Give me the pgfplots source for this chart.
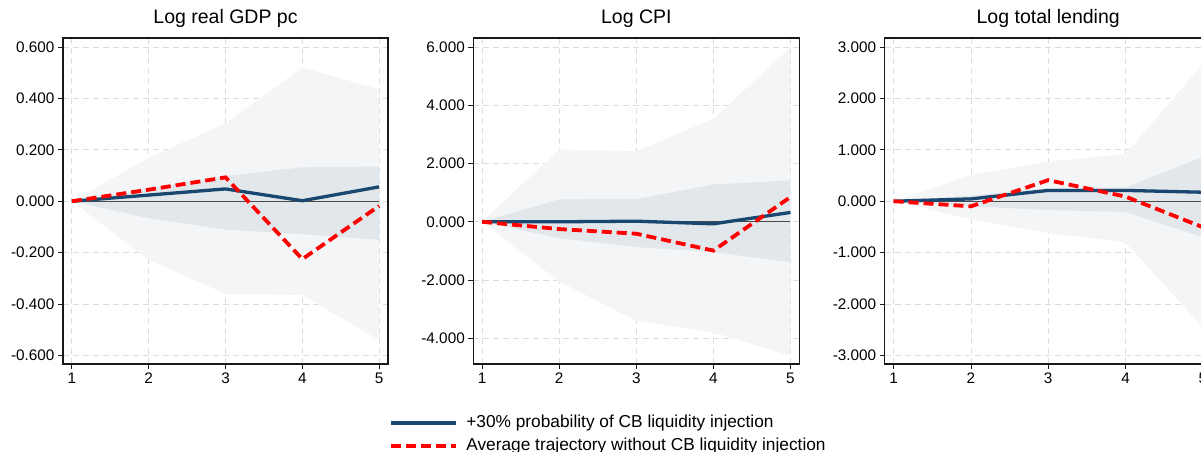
\documentclass[border=0pt]{standalone}
\usepackage{pgfplots}
\pgfplotsset{compat=1.18}
\usepackage{pgfplotstable}
\usepgfplotslibrary{fillbetween}
\usepackage{fontspec}
\setmainfont{Liberation Sans}

\definecolor{navy}{HTML}{1A476F}
\definecolor{bandlight}{HTML}{F4F5F7}
\definecolor{banddark}{HTML}{E2E7EC}
\definecolor{gridc}{HTML}{DCDCDC}

% x  blue  red  lightup lightlo darkup darklo
\pgfplotstableread{
x b r lu ll du dl
1 0 0 0 0 0 0
2 0.024 0.045 0.168 -0.228 0.050 -0.066
3 0.048 0.093 0.303 -0.360 0.098 -0.110
4 0.002 -0.225 0.520 -0.365 0.132 -0.128
5 0.056 -0.018 0.435 -0.540 0.135 -0.150
}\gdp
\pgfplotstableread{
x b r lu ll du dl
1 0 0 0 0 0 0
2 0.00 -0.25 2.48 -2.05 0.77 -0.56
3 0.02 -0.41 2.42 -3.40 0.78 -0.87
4 -0.07 -0.99 3.54 -3.80 1.28 -1.04
5 0.32 0.85 5.98 -4.60 1.42 -1.39
}\cpi
\pgfplotstableread{
x b r lu ll du dl
1 0 0 0 0 0 0
2 0.045 -0.10 0.51 -0.35 0.11 -0.10
3 0.21 0.41 0.77 -0.62 0.25 -0.17
4 0.21 0.09 0.92 -0.80 0.27 -0.21
5 0.175 -0.505 2.67 -2.45 0.86 -0.70
}\lend

\pgfplotsset{
  panel/.style={
    scale only axis,
    width=325pt, height=326pt,
    anchor=south west,
    xmin=0.885, xmax=5.115,
    xtick={1,2,3,4,5},
    tick align=outside,
    major tick length=5pt,
    xtick pos=bottom, ytick pos=left,
    axis line style={line width=1.1pt, black!90},
    tick style={line width=0.8pt, black!90},
    grid=major,
    major grid style={gridc, line width=0.8pt, dash pattern=on 6pt off 4pt},
    ticklabel style={font=\fontsize{15.3}{18}\selectfont},
    yticklabel style={/pgf/number format/.cd, fixed, fixed zerofill, precision=3, assume math mode=true},
    xticklabel style={/pgf/number format/assume math mode=true},
    title style={at={(0.5,1)}, anchor=base, yshift=8.7pt, font=\fontsize{19.5}{22}\selectfont, inner sep=0pt},
    clip=true,
  },
  bl/.style={navy, line width=3.3pt, line join=round},
  rd/.style={red, line width=3.8pt, dash pattern=on 10pt off 5pt},
}

\newcommand{\drawpanel}[1]{%
  \addplot[name path=lu, draw=none, forget plot] table[x=x,y=lu] {#1};
  \addplot[name path=ll, draw=none, forget plot] table[x=x,y=ll] {#1};
  \addplot[bandlight, forget plot] fill between[of=lu and ll];
  \addplot[name path=du, draw=none, forget plot] table[x=x,y=du] {#1};
  \addplot[name path=dl, draw=none, forget plot] table[x=x,y=dl] {#1};
  \addplot[banddark, forget plot] fill between[of=du and dl];
  \addplot[black!70, line width=0.9pt, forget plot] coordinates {(1,0) (5,0)};
  \addplot[bl] table[x=x,y=b] {#1};
  \addplot[rd] table[x=x,y=r] {#1};
}

\begin{document}
\begin{tikzpicture}

\begin{axis}[panel, at={(63pt,88pt)}, width=325pt,
  title={Log real GDP pc},
  ymin=-0.633, ymax=0.635,
  ytick={-0.6,-0.4,-0.2,0,0.2,0.4,0.6}]
\drawpanel{\gdp}
\end{axis}

\begin{axis}[panel, at={(473.3pt,88pt)}, width=326pt,
  title={Log CPI},
  ymin=-4.882, ymax=6.309,
  ytick={-4,-2,0,2,4,6},
  legend style={at={(-0.2576,-0.156)}, anchor=north west, draw=none, fill=none,
    inner sep=0pt, row sep=7pt,
    font=\fontsize{17.3}{20}\selectfont,
    nodes={inner sep=0pt, text height=12.5pt, text depth=3.5pt},
    /tikz/every odd column/.style={column sep=8pt}},
  legend cell align=left,
  legend image code/.code={\draw[#1] (0pt,0pt) -- (65pt,0pt);}]
\drawpanel{\cpi}
\legend{+30\% probability of CB liquidity injection, Average trajectory without CB liquidity injection}
\end{axis}

\begin{axis}[panel, at={(884.7pt,88pt)}, width=327pt,
  title={Log total lending},
  ymin=-3.166, ymax=3.175,
  ytick={-3,-2,-1,0,1,2,3}]
\drawpanel{\lend}
\end{axis}
\pgfresetboundingbox
\useasboundingbox (0pt,0pt) rectangle (1201pt,452pt);
\end{tikzpicture}
\end{document}
